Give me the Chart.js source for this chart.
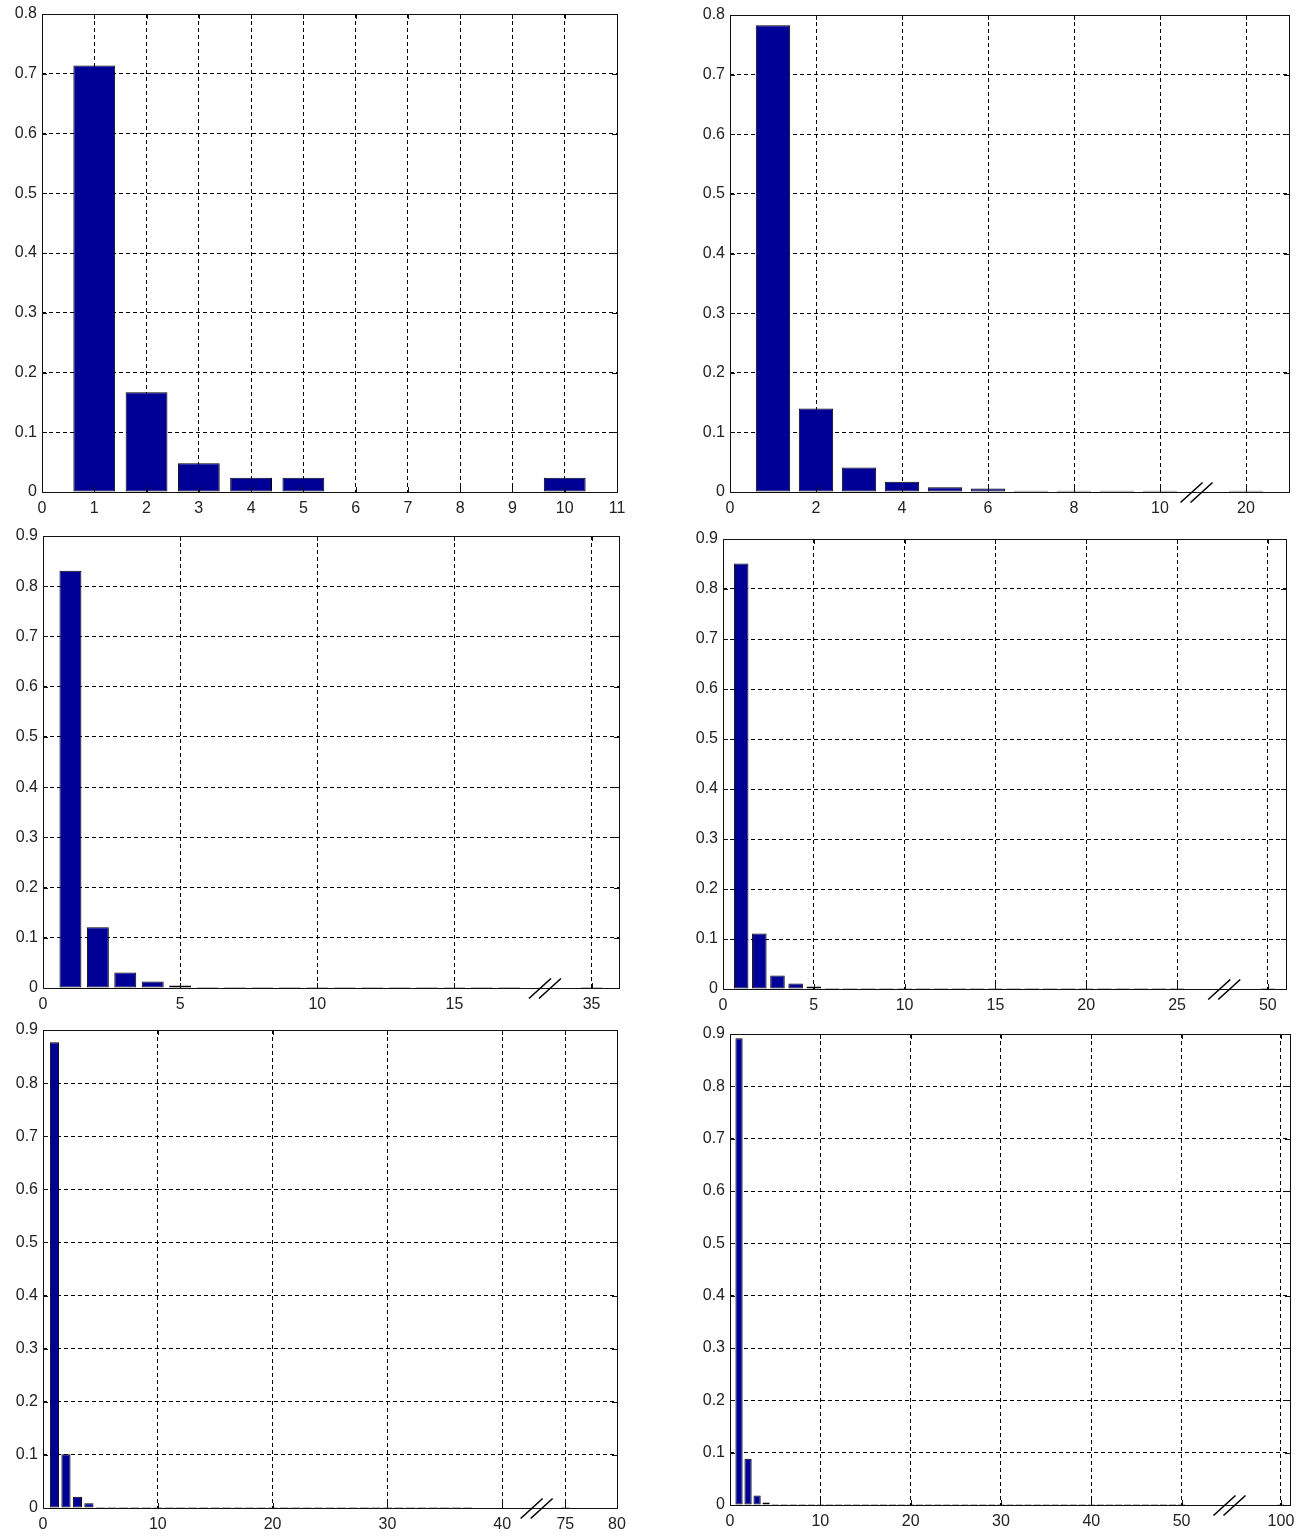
<!DOCTYPE html>
<html>
<head>
<meta charset="utf-8">
<script src="https://cdn.jsdelivr.net/npm/chart.js@4.4.1/dist/chart.umd.min.js"></script>
<style>
  html, body { margin: 0; padding: 0; background: #fff; }
  #wrap { position: relative; width: 1311px; height: 1539px; }
  #wrap canvas { position: absolute; }
</style>
</head>
<body>
<div id="wrap"></div>
<script>
// ---- Panel 1: bins 1..11 ----
const p1Pos = [1, 2, 3, 4, 5, 10];
const p1Values = [0.714, 0.167, 0.048, 0.024, 0.024, 0.024];
const p1TickPos = [0, 1, 2, 3, 4, 5, 6, 7, 8, 9, 10, 11];
const p1TickLabels = ['0', '1', '2', '3', '4', '5', '6', '7', '8', '9', '10', '11'];

// ---- Panel 2: bins 1..10, then 20 after the axis break ----
const p2Pos = [1, 2, 3, 4, 5, 6, 7, 8, 9, 10, 12];
const p2Values = [0.783, 0.140, 0.041, 0.017, 0.008, 0.006, 0.002, 0.002, 0.002, 0.002, 0.002];
const p2TickPos = [0, 2, 4, 6, 8, 10, 12];
const p2TickLabels = ['0', '2', '4', '6', '8', '10', '20'];

// ---- Panel 3: bins 1..17, then 35 after the axis break ----
const p3Pos = [1, 2, 3, 4, 5, 6, 7, 8, 9, 10, 11, 12, 13, 14, 15, 16, 17, 20];
const p3Values = [0.831, 0.121, 0.031, 0.013, 0.005, 0.002, 0.002, 0.002, 0.002, 0.002,
                  0.002, 0.002, 0.002, 0.002, 0.002, 0.002, 0.002, 0.002];
const p3TickPos = [0, 5, 10, 15, 20];
const p3TickLabels = ['0', '5', '10', '15', '35'];

// ---- Panel 4: bins 1..25, then 50 after the axis break ----
const p4Pos = [1, 2, 3, 4, 5, 6, 7, 8, 9, 10, 11, 12, 13, 14, 15, 16, 17, 18, 19, 20,
               21, 22, 23, 24, 25, 30];
const p4Values = [0.851, 0.111, 0.027, 0.011, 0.005, 0.002, 0.002, 0.002, 0.002, 0.002,
                  0.002, 0.002, 0.002, 0.002, 0.002, 0.002, 0.002, 0.002, 0.002, 0.002,
                  0.002, 0.002, 0.002, 0.002, 0.002, 0.002];
const p4TickPos = [0, 5, 10, 15, 20, 25, 30];
const p4TickLabels = ['0', '5', '10', '15', '20', '25', '50'];

// ---- Panel 5: bins 1..37, then 75 after the axis break ----
const p5Pos = [1, 2, 3, 4, 5, 6, 7, 8, 9, 10, 11, 12, 13, 14, 15, 16, 17, 18, 19, 20,
               21, 22, 23, 24, 25, 26, 27, 28, 29, 30, 31, 32, 33, 34, 35, 36, 37, 45.5];
const p5Values = [0.877, 0.101, 0.021, 0.009, 0.002, 0.002, 0.002, 0.002, 0.002, 0.002,
                  0.002, 0.002, 0.002, 0.002, 0.002, 0.002, 0.002, 0.002, 0.002, 0.002,
                  0.002, 0.002, 0.002, 0.002, 0.002, 0.002, 0.002, 0.002, 0.002, 0.002,
                  0.002, 0.002, 0.002, 0.002, 0.002, 0.002, 0.002, 0.002];
const p5TickPos = [0, 10, 20, 30, 40, 45.5, 50];
const p5TickLabels = ['0', '10', '20', '30', '40', '75', '80'];

// ---- Panel 6: bins 1..50, then 100 after the axis break ----
const p6Pos = [1, 2, 3, 4, 5, 6, 7, 8, 9, 10, 11, 12, 13, 14, 15, 16, 17, 18, 19, 20,
               21, 22, 23, 24, 25, 26, 27, 28, 29, 30, 31, 32, 33, 34, 35, 36, 37, 38, 39, 40,
               41, 42, 43, 44, 45, 46, 47, 48, 49, 50, 61];
const p6Values = [0.892, 0.0885, 0.018, 0.005, 0.002, 0.002, 0.002, 0.002, 0.002, 0.002,
                  0.002, 0.002, 0.002, 0.002, 0.002, 0.002, 0.002, 0.002, 0.002, 0.002,
                  0.002, 0.002, 0.002, 0.002, 0.002, 0.002, 0.002, 0.002, 0.002, 0.002,
                  0.002, 0.002, 0.002, 0.002, 0.002, 0.002, 0.002, 0.002, 0.002, 0.002,
                  0.002, 0.002, 0.002, 0.002, 0.002, 0.002, 0.002, 0.002, 0.002, 0.002, 0.002];
const p6TickPos = [0, 10, 20, 30, 40, 50, 61];
const p6TickLabels = ['0', '10', '20', '30', '40', '50', '100'];

// Layout: plot-area rectangle of each panel on the page, plus axis extents
const panels = [
  { frame: { left: 42, top: 14, right: 617, bottom: 492 }, pos: p1Pos, values: p1Values,
    xMax: 11, yMax: 0.8, tickPos: p1TickPos, tickLabels: p1TickLabels, breakAt: null },
  { frame: { left: 730, top: 15, right: 1289, bottom: 492 }, pos: p2Pos, values: p2Values,
    xMax: 13, yMax: 0.8, tickPos: p2TickPos, tickLabels: p2TickLabels, breakAt: 10.85 },
  { frame: { left: 43, top: 536, right: 619, bottom: 988 }, pos: p3Pos, values: p3Values,
    xMax: 21, yMax: 0.9, tickPos: p3TickPos, tickLabels: p3TickLabels, breakAt: 18.3 },
  { frame: { left: 723, top: 539, right: 1286, bottom: 989 }, pos: p4Pos, values: p4Values,
    xMax: 31, yMax: 0.9, tickPos: p4TickPos, tickLabels: p4TickLabels, breakAt: 27.6 },
  { frame: { left: 43, top: 1030, right: 617, bottom: 1508 }, pos: p5Pos, values: p5Values,
    xMax: 50, yMax: 0.9, tickPos: p5TickPos, tickLabels: p5TickLabels, breakAt: 43 },
  { frame: { left: 730, top: 1034, right: 1290, bottom: 1505 }, pos: p6Pos, values: p6Values,
    xMax: 62, yMax: 0.9, tickPos: p6TickPos, tickLabels: p6TickLabels, breakAt: 55.3 }
];

const BAR_FILL = '#000096';
const Y_AXIS_W = 45, X_AXIS_H = 28, PAD_TOP = 18, PAD_RIGHT = 18;

Chart.defaults.font.family = "'Liberation Sans', Arial, sans-serif";
Chart.defaults.font.size = 16;
Chart.defaults.color = '#222';

// Boxed axes with inward tick marks, and the "//" break on the x axis
const framePlugin = {
  id: 'matlabFrame',
  afterDatasetsDraw(chart, args, opts) {
    const { ctx, chartArea: a, scales: { x, y } } = chart;
    const tl = 5;
    ctx.save();
    ctx.strokeStyle = '#111';
    ctx.lineWidth = 1;
    ctx.setLineDash([]);
    ctx.beginPath();
    x.ticks.forEach((t, i) => {
      const px = Math.round(x.getPixelForTick(i)) + 0.5;
      ctx.moveTo(px, a.bottom); ctx.lineTo(px, a.bottom - tl);
      ctx.moveTo(px, a.top); ctx.lineTo(px, a.top + tl);
    });
    y.ticks.forEach((t, i) => {
      const py = Math.round(y.getPixelForTick(i)) + 0.5;
      ctx.moveTo(a.left, py); ctx.lineTo(a.left + tl, py);
      ctx.moveTo(a.right, py); ctx.lineTo(a.right - tl, py);
    });
    ctx.stroke();
    ctx.strokeRect(Math.round(a.left) + 0.5, Math.round(a.top) + 0.5,
                   Math.round(a.right - a.left), Math.round(a.bottom - a.top));
    if (opts.at != null) {
      const bx = x.getPixelForValue(opts.at);
      const by = Math.round(a.bottom) + 0.5;
      ctx.lineWidth = 1.6;
      ctx.strokeStyle = '#000';
      ctx.beginPath();
      [-5, 5].forEach(dx => {
        ctx.moveTo(bx + dx - 11, by + 10);
        ctx.lineTo(bx + dx + 11, by - 10);
      });
      ctx.stroke();
    }
    ctx.restore();
  }
};

const wrap = document.getElementById('wrap');

panels.forEach(p => {
  const f = p.frame;
  const w = (f.right - f.left) + Y_AXIS_W + PAD_RIGHT;
  const h = (f.bottom - f.top) + PAD_TOP + X_AXIS_H;
  const cv = document.createElement('canvas');
  cv.width = w; cv.height = h;
  cv.style.left = (f.left - Y_AXIS_W) + 'px';
  cv.style.top = (f.top - PAD_TOP) + 'px';
  cv.style.width = w + 'px';
  cv.style.height = h + 'px';
  wrap.appendChild(cv);

  new Chart(cv, {
    type: 'bar',
    data: {
      datasets: [{
        data: p.pos.map((x, i) => ({ x: x, y: p.values[i] })),
        backgroundColor: BAR_FILL,
        borderColor: '#000',
        borderWidth: 1,
        borderSkipped: false,
        barPercentage: 0.8,
        categoryPercentage: 1.0
      }]
    },
    options: {
      responsive: false,
      animation: false,
      devicePixelRatio: 1,
      layout: { padding: { left: 0, top: PAD_TOP, right: PAD_RIGHT, bottom: 0 } },
      plugins: {
        legend: { display: false },
        tooltip: { enabled: false },
        matlabFrame: { at: p.breakAt }
      },
      scales: {
        x: {
          type: 'linear',
          min: 0,
          max: p.xMax,
          offset: false,
          afterBuildTicks: s => { s.ticks = p.tickPos.map(v => ({ value: v })); },
          afterFit: s => { s.height = X_AXIS_H; },
          ticks: {
            autoSkip: false,
            maxRotation: 0,
            padding: 7,
            callback: (v, i) => p.tickLabels[i]
          },
          grid: { offset: false, color: '#000', lineWidth: 1, drawTicks: false, tickLength: 0 },
          border: { display: false, dash: [4, 3] }
        },
        y: {
          min: 0,
          max: p.yMax,
          afterFit: s => { s.width = Y_AXIS_W; },
          ticks: {
            stepSize: 0.1,
            padding: 5,
            callback: v => (Math.abs(v) < 1e-9 ? '0' : (Math.round(v * 10) / 10).toFixed(1))
          },
          grid: { color: '#000', lineWidth: 1, drawTicks: false, tickLength: 0 },
          border: { display: false, dash: [4, 3] }
        }
      }
    },
    plugins: [framePlugin]
  });
});
</script>
</body>
</html>
